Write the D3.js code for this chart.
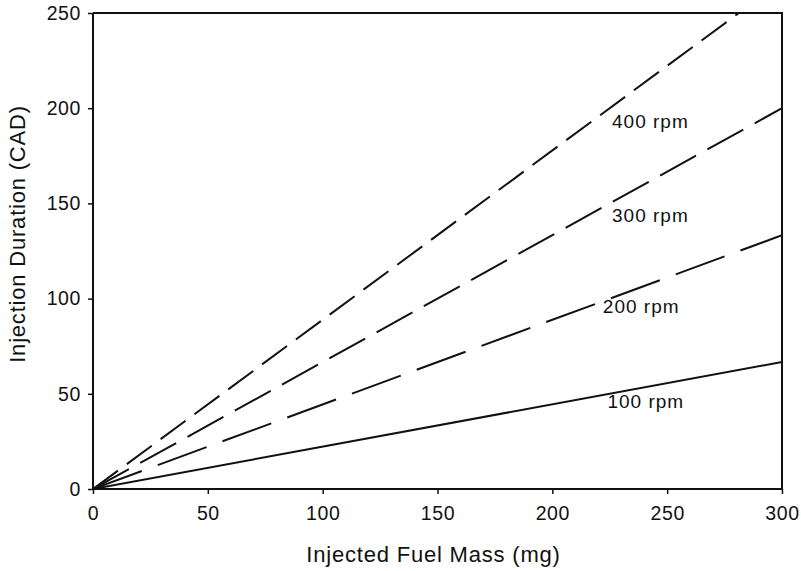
<!DOCTYPE html>
<html>
<head>
    <meta charset="utf-8">
    <script src="https://d3js.org/d3.v7.min.js"></script>
    <style>
        body {
            margin: 0;
            background: #fff;
        }
        svg text {
            font-family: "Liberation Sans", Arial, sans-serif;
            fill: #111;
        }
        .tick-label { font-size: 19.5px; letter-spacing: 0.6px; }
        .axis-title { font-size: 22px; letter-spacing: 0.8px; }
        .rpm-label { font-size: 19px; letter-spacing: 1px; }
    </style>
</head>
<body>
    <svg id="chart" width="801" height="571"></svg>

    <script>
        // 数据
        const massRange = [0, 300];
        const series = ["100 rpm", "200 rpm", "300 rpm", "400 rpm"];
        const durationAt300 = [66.7, 133.3, 200, 266.7];   // 300 mg 时的喷射持续角
        const dashes = ["", "52,17", "41,13", "31,11"];
        const labelX = [224, 222, 226, 226];
        const labelY = [42.5, 92.4, 140.2, 189.6];
        const xTicks = [0, 50, 100, 150, 200, 250, 300];
        const yTicks = [0, 50, 100, 150, 200, 250];

        const svg = d3.select("#chart");
        const margin = {left: 93, right: 19, top: 13, bottom: 82};
        const W = 801 - margin.left - margin.right;
        const H = 571 - margin.top - margin.bottom;

        const x = d3.scaleLinear().domain(massRange).range([0, W]);
        const y = d3.scaleLinear().domain([0, 250]).range([H, 0]);

        const g = svg.append("g").attr("transform", `translate(${margin.left},${margin.top})`);

        g.append("clipPath").attr("id", "clip")
            .append("rect").attr("width", W).attr("height", H);

        // 曲线
        const line = d3.line().x(d => x(d[0])).y(d => y(d[1]));
        series.forEach((s, i) => {
            g.append("path")
                .datum([[0, 0], [300, durationAt300[i]]])
                .attr("clip-path", "url(#clip)")
                .attr("d", line)
                .attr("fill", "none")
                .attr("stroke", "#111")
                .attr("stroke-width", 2)
                .attr("stroke-dasharray", dashes[i] || null);

            g.append("text")
                .attr("class", "rpm-label")
                .attr("x", x(labelX[i]))
                .attr("y", y(labelY[i]))
                .text(s);
        });

        // 坐标轴
        const xAxis = g.append("g").attr("transform", `translate(0,${H})`)
            .call(d3.axisBottom(x).tickValues(xTicks).tickSize(5).tickPadding(12));
        const yAxis = g.append("g")
            .call(d3.axisLeft(y).tickValues(yTicks).tickSize(5).tickPadding(7));

        [xAxis, yAxis].forEach(a => {
            a.select(".domain").attr("stroke", "#111").attr("stroke-width", 2);
            a.selectAll(".tick line").attr("stroke", "#111").attr("stroke-width", 1.5);
            a.selectAll(".tick text").attr("class", "tick-label").attr("fill", null).attr("font-size", null).attr("font-family", null);
        });
        xAxis.select(".domain").attr("d", `M0,0H${W}`);
        yAxis.select(".domain").attr("d", `M0,0V${H}`);

        // 上、右边框
        g.append("path")
            .attr("d", `M0,0H${W}V${H}`)
            .attr("fill", "none")
            .attr("stroke", "#111")
            .attr("stroke-width", 2);

        // 轴标题
        svg.append("text")
            .attr("class", "axis-title")
            .attr("x", margin.left + W / 2 - 4)
            .attr("y", 562)
            .attr("text-anchor", "middle")
            .text("Injected Fuel Mass (mg)");

        svg.append("text")
            .attr("class", "axis-title")
            .attr("transform", `translate(25,${margin.top + H / 2 - 17}) rotate(-90)`)
            .attr("text-anchor", "middle")
            .text("Injection Duration (CAD)");
    </script>
</body>
</html>
